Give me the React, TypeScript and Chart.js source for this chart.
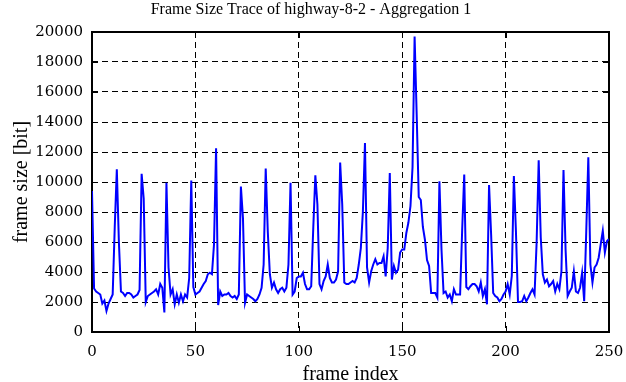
import React, { useEffect, useRef } from "react";
import { Chart, registerables } from "chart.js";

Chart.register(...registerables);

const TITLE = "Frame Size Trace of highway-8-2 - Aggregation 1";
const X_LABEL = "frame index";
const Y_LABEL = "frame size [bit]";

const X_MIN = 0;
const X_MAX = 250;
const X_STEP = 50;
const Y_MIN = 0;
const Y_MAX = 20000;
const Y_STEP = 2000;

// frame sizes in bits, frame 0 .. 250
const frameSizes = [
  9400, 2900, 2700, 2600, 2500, 1900, 2100, 1400, 1900, 2200,
  2500, 7000, 10850, 6000, 2700, 2600, 2400, 2600, 2600, 2500,
  2300, 2400, 2500, 2800, 10550, 8900, 2000, 2400, 2500, 2600,
  2700, 2850, 2500, 3200, 2950, 1300, 9950, 4300, 2500, 2850,
  1850, 2500, 1950, 2500, 2050, 2500, 2300, 3600, 10100, 3000,
  2500, 2600, 2700, 2950, 3200, 3400, 3850, 3950, 3850, 5850,
  12250, 1800, 2700, 2400, 2500, 2500, 2600, 2400, 2300, 2400,
  2200, 2500, 9700, 7600, 1950, 2500, 2400, 2300, 2200, 2050,
  2200, 2500, 2950, 4500, 10900, 6700, 3850, 2950, 3300, 2850,
  2600, 2850, 2950, 2700, 2950, 4500, 9950, 2500, 2700, 3600,
  3700, 3700, 3950, 3200, 2850, 2850, 3050, 6950, 10450, 8500,
  3200, 2850, 3400, 3700, 4500, 3600, 3300, 3300, 3500, 4050,
  11300, 8500, 3300, 3200, 3200, 3300, 3400, 3300, 3600, 4500,
  5600, 8050, 12600, 4300, 3300, 4050, 4500, 4850, 4500, 4600,
  4600, 5050, 3700, 5600, 10600, 3500, 4400, 3950, 4150, 5300,
  5500, 5500, 6600, 7300, 8400, 11000, 19700, 14500, 9000, 8800,
  7000, 6150, 4800, 4400, 2600, 2600, 2600, 2300, 10050, 5500,
  2600, 2700, 2300, 2500, 2050, 2850, 2500, 2500, 2500, 6800,
  10500, 3000, 2850, 3050, 3200, 3200, 3050, 2700, 3300, 2400,
  2850, 1850, 9800, 6500, 2600, 2400, 2300, 2050, 2200, 2500,
  2700, 3200, 2500, 3750, 10400, 6700, 2000, 2000, 2050, 2400,
  2050, 2300, 2600, 2850, 2500, 5950, 11450, 6300, 3850, 3300,
  3500, 3050, 3200, 3400, 2700, 3200, 2850, 4050, 10800, 5500,
  2400, 2700, 2950, 4050, 2700, 2600, 2950, 3950, 2050, 6700,
  11650, 4500, 3300, 4300, 4500, 4950, 5850, 6750, 5300, 6050,
  6200,
];

const TITLE_FONT = "'Liberation Serif', 'Times New Roman', serif";
const TICK_FONT = "'DejaVu Serif', serif";

const framePlugin = {
  id: "gnuplotFrame",
  beforeDatasetsDraw(chart: any) {
    const { ctx, chartArea: a, scales } = chart;
    const xs = scales.x;
    const ys = scales.y;
    ctx.save();
    ctx.strokeStyle = "#000";
    ctx.lineWidth = 1;
    ctx.setLineDash([]);
    ctx.beginPath();
    const tl = 6;
    xs.ticks.forEach((t: any) => {
      const px = Math.round(xs.getPixelForValue(t.value)) + 0.5;
      ctx.moveTo(px, a.bottom);
      ctx.lineTo(px, a.bottom - tl);
      ctx.moveTo(px, a.top);
      ctx.lineTo(px, a.top + tl);
    });
    ys.ticks.forEach((t: any) => {
      const py = Math.round(ys.getPixelForValue(t.value)) + 0.5;
      ctx.moveTo(a.left, py);
      ctx.lineTo(a.left + tl, py);
      ctx.moveTo(a.right, py);
      ctx.lineTo(a.right - tl, py);
    });
    ctx.stroke();
    ctx.lineWidth = 2;
    ctx.strokeRect(a.left, a.top, a.right - a.left, a.bottom - a.top);
    ctx.restore();
  },
};

export default function App() {
  const canvasRef = useRef<HTMLCanvasElement | null>(null);

  useEffect(() => {
    document.body.style.margin = "0";
    const canvas = canvasRef.current;
    if (!canvas) return;
    const points = frameSizes.map((v, i) => ({ x: i, y: v }));
    const chart = new Chart(canvas, {
      type: "line",
      data: {
        datasets: [
          {
            data: points,
            borderColor: "#0000ff",
            borderWidth: 2,
            pointRadius: 0,
            tension: 0,
            fill: false,
          },
        ],
      },
      options: {
        animation: false,
        responsive: false,
        maintainAspectRatio: false,
        layout: { padding: { left: 13, right: 17, top: 0, bottom: 0 } },
        plugins: {
          legend: { display: false },
          tooltip: { enabled: false },
          title: {
            display: true,
            text: TITLE,
            color: "#000",
            font: { family: TITLE_FONT, size: 16, weight: "normal" },
            padding: { top: 0, bottom: 12.8 },
          },
        },
        scales: {
          x: {
            type: "linear",
            min: X_MIN,
            max: X_MAX,
            ticks: {
              stepSize: X_STEP,
              color: "#000",
              font: { family: TICK_FONT, size: 15 },
              padding: 11,
              maxRotation: 0,
              callback: (v: any) => String(v),
            },
            grid: { color: "#000", lineWidth: 1, drawTicks: false },
            border: { display: false, dash: [6, 4] },
            title: {
              display: true,
              text: X_LABEL,
              color: "#000",
              font: { family: TITLE_FONT, size: 20, lineHeight: 1 },
              padding: { top: 0, bottom: -3 },
            },
            afterFit: (scale: any) => {
              scale.height = 50;
              scale.paddingLeft = 0;
              scale.paddingRight = 0;
            },
          },
          y: {
            type: "linear",
            min: Y_MIN,
            max: Y_MAX,
            ticks: {
              stepSize: Y_STEP,
              color: "#000",
              font: { family: TICK_FONT, size: 15 },
              padding: 9,
              callback: (v: any) => String(v),
            },
            grid: { color: "#000", lineWidth: 1, drawTicks: false },
            border: { display: false, dash: [6, 4] },
            title: {
              display: true,
              text: Y_LABEL,
              color: "#000",
              font: { family: TITLE_FONT, size: 20, lineHeight: 1 },
              padding: { top: -1, bottom: 0 },
            },
            afterFit: (scale: any) => {
              scale.width = 79;
            },
          },
        },
      },
      plugins: [framePlugin],
    });
    return () => chart.destroy();
  }, []);

  return (
    <div style={{ position: "fixed", left: 0, top: 0, width: 626, height: 382, background: "#fff" }}>
      <canvas ref={canvasRef} width={626} height={382} style={{ width: 626, height: 382 }} />
    </div>
  );
}
